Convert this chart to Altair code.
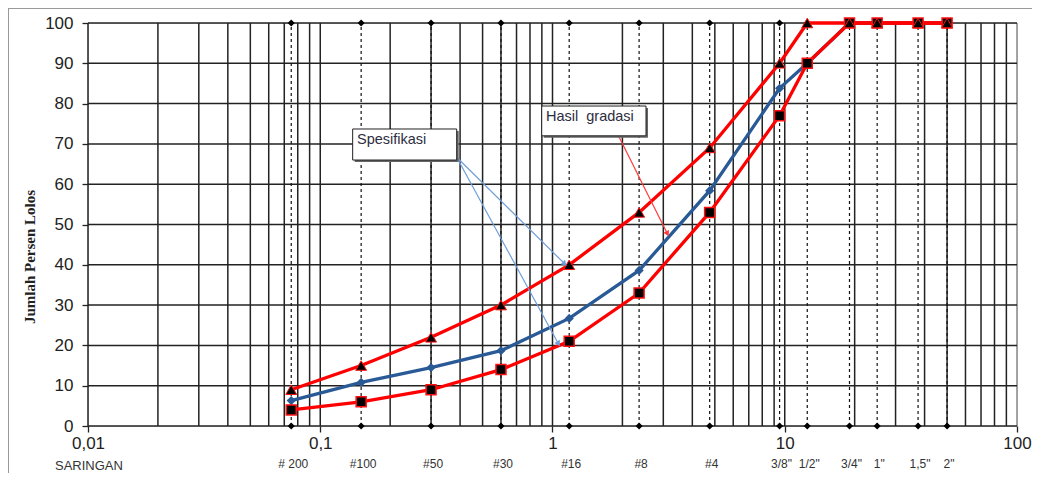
import altair as alt
import pandas as pd

# ---- data ----
sieve_labels = ['# 200', '#100', '#50', '#30', '#16', '#8', '#4',
                '3/8"', '1/2"', '3/4"', '1"', '1,5"', '2"']
sieve_sizes = [0.075, 0.15, 0.3, 0.6, 1.18, 2.36, 4.75, 9.5, 12.5, 19, 25, 37.5, 50]
upper_spec = [9, 15, 22, 30, 40, 53, 69, 90, 100, 100, 100, 100, 100]
lower_spec = [4, 6, 9, 14, 21, 33, 53, 77, 90, 100, 100, 100, 100]
hasil_gradasi = [6.3, 10.8, 14.5, 18.7, 26.7, 38.6, 58.4, 83.8, 90, 100, 100, 100, 100]

x_major = [0.01, 0.1, 1, 10, 100]
y_ticks = [0, 10, 20, 30, 40, 50, 60, 70, 80, 90, 100]
x_grid = [m * 10 ** e for e in range(-2, 2) for m in range(1, 10)] + [100]

# annotation boxes / arrows (data coordinates)
ann_boxes = pd.DataFrame({
    'x1': [0.1379, 0.8985], 'x2': [0.3868, 2.527],
    'y1': [66.0, 72.0], 'y2': [73.7, 79.4],
    'tx': [0.1439, 0.9375], 'ty': [71.0, 76.7],
    'text': ['Spesifikasi', 'Hasil\u00a0 gradasi'],
})
arrows = pd.DataFrame({
    'x1': [0.3868, 0.3868, 1.933], 'y1': [66.7, 66.7, 71.8],
    'x2': [1.121, 1.056, 3.112], 'y2': [40.4, 20.6, 47.9],
    'ang': [134.7, 151.4, 153.5],
    'col': ['#6e9fd8', '#6e9fd8', '#ff3a3a'],
})

W, H = 929, 403
FONT = 'Liberation Sans'

xs = alt.Scale(type='log', domain=[0.01, 100])
ys = alt.Scale(domain=[0, 100])

x_axis = alt.Axis(
    values=x_major, labelExpr="replace(toString(datum.value), '.', ',')",
    tickSize=6, tickColor='#222', tickWidth=1.3, domain=False, grid=False, title=None,
    labelFont=FONT, labelFontSize=17, labelColor='#222', labelPadding=3,
    labelFlush=False, labelOverlap=False, labelBound=False)
y_axis = alt.Axis(
    values=y_ticks, tickSize=6, tickColor='#222', tickWidth=1.3, domain=False, grid=False, title=None,
    labelFont=FONT, labelFontSize=17, labelColor='#222', labelPadding=9)

df = pd.DataFrame({'size': sieve_sizes, 'label': sieve_labels,
                   'upper': upper_spec, 'lower': lower_spec, 'hasil': hasil_gradasi})


def X(field='size'):
    return alt.X(f'{field}:Q', scale=xs, axis=x_axis)


def Y(field):
    return alt.Y(f'{field}:Q', scale=ys, axis=y_axis)


# vertical grid
vgrid = alt.Chart(pd.DataFrame({'gx': x_grid})).mark_rule(strokeWidth=1.5).encode(
    x=X('gx'),
    y=alt.value(0), y2=alt.value(H),
    color=alt.condition('datum.gx == 100', alt.value('#888'), alt.value('#222')),
)

# horizontal grid
hgrid = alt.Chart(pd.DataFrame({'gy': y_ticks})).mark_rule(color='#222', strokeWidth=1.5).encode(
    y=Y('gy'), x=alt.value(0), x2=alt.value(W),
)

sieve_df = df.assign(y0=0, y1=100)
sieve_lines = alt.Chart(sieve_df).mark_rule(color='#111', strokeWidth=1.2, strokeDash=[3, 3]).encode(
    x=X(), y=Y('y0'), y2='y1:Q')
diam_top = alt.Chart(sieve_df).mark_point(shape='diamond', filled=True, color='black', size=50, opacity=1).encode(
    x=X(), y=Y('y1'))
diam_bot = alt.Chart(sieve_df).mark_point(shape='diamond', filled=True, color='black', size=50, opacity=1).encode(
    x=X(), y=Y('y0'))

sieve_text = alt.Chart(df).mark_text(font=FONT, fontSize=12, color='#333', baseline='middle', dx=2).encode(
    x=X(), y=alt.value(441), text='label:N')

blue = '#2a5a96'
hasil_line = alt.Chart(df).mark_line(color=blue, strokeWidth=3.3).encode(x=X(), y=Y('hasil'))
hasil_pts = alt.Chart(df).mark_point(shape='diamond', filled=True, color=blue, size=85, opacity=1).encode(
    x=X(), y=Y('hasil'))

low_line = alt.Chart(df).mark_line(color='#ff0000', strokeWidth=3.3).encode(x=X(), y=Y('lower'))
low_pts = alt.Chart(df).mark_point(shape='square', filled=False, fill='black', stroke='#ff1010',
                                   strokeWidth=1.5, size=100, opacity=1, fillOpacity=1).encode(
    x=X(), y=Y('lower'))

up_line = alt.Chart(df).mark_line(color='#ff0000', strokeWidth=3.3).encode(x=X(), y=Y('upper'))
up_pts = alt.Chart(df).mark_point(shape='triangle-up', filled=False, fill='black', stroke='#ff1010',
                                  strokeWidth=1, size=120, opacity=1, fillOpacity=1).encode(
    x=X(), y=Y('upper'))

# annotations
box_shadow = alt.Chart(ann_boxes).mark_rect(fill='#666', xOffset=2, yOffset=2, x2Offset=2, y2Offset=2).encode(
    x=X('x1'), x2='x2:Q', y=Y('y1'), y2='y2:Q')
box = alt.Chart(ann_boxes).mark_rect(fill='white', stroke='#222', strokeWidth=1).encode(
    x=X('x1'), x2='x2:Q', y=Y('y1'), y2='y2:Q')
box_text = alt.Chart(ann_boxes).mark_text(font=FONT, fontSize=14.5, color='#2d2d40', align='left',
                                          baseline='middle').encode(
    x=X('tx'), y=Y('ty'), text='text:N')

arrow_lines = alt.Chart(arrows).mark_rule(strokeWidth=1.2).encode(
    x=X('x1'), y=Y('y1'), x2='x2:Q', y2='y2:Q', color=alt.Color('col:N', scale=None))
arrow_heads = alt.Chart(arrows).mark_point(shape='triangle', filled=True, size=40, opacity=1).encode(
    x=X('x2'), y=Y('y2'), angle=alt.Angle('ang:Q', scale=None), color=alt.Color('col:N', scale=None))

ytitle = alt.Chart(pd.DataFrame({'t': ['Jumlah Persen Lolos']})).mark_text(
    font='Liberation Serif', fontWeight='bold', fontSize=15, angle=270, color='#222',
    align='center', baseline='middle').encode(
    x=alt.value(-58), y=alt.value(234), text='t:N')

xtitle = alt.Chart(pd.DataFrame({'t': ['SARINGAN']})).mark_text(
    font=FONT, fontSize=13, color='#333', align='left', baseline='middle').encode(
    x=alt.value(-33), y=alt.value(443), text='t:N')

frame_top = alt.Chart(pd.DataFrame({'a': [0]})).mark_rule(color='#999', strokeWidth=2).encode(
    x=alt.value(-80), x2=alt.value(W + 20), y=alt.value(-15))
frame_left = alt.Chart(pd.DataFrame({'a': [0]})).mark_rule(color='#999', strokeWidth=2).encode(
    x=alt.value(-80), y=alt.value(-15), y2=alt.value(H + 60))

chart = alt.layer(
    frame_top, frame_left,
    vgrid, hgrid, sieve_lines, diam_top, diam_bot, sieve_text,
    hasil_line, low_line, up_line, hasil_pts, low_pts, up_pts,
    arrow_lines, arrow_heads, box_shadow, box, box_text,
    ytitle, xtitle,
).properties(
    width=W, height=H,
    autosize=alt.AutoSizeParams(type='none'),
    padding={'left': 80, 'top': 15, 'right': 15, 'bottom': 47},
).configure_view(stroke=None).configure(background='white')

chart.save('out.html', embed_options={'renderer': 'svg', 'actions': False})
